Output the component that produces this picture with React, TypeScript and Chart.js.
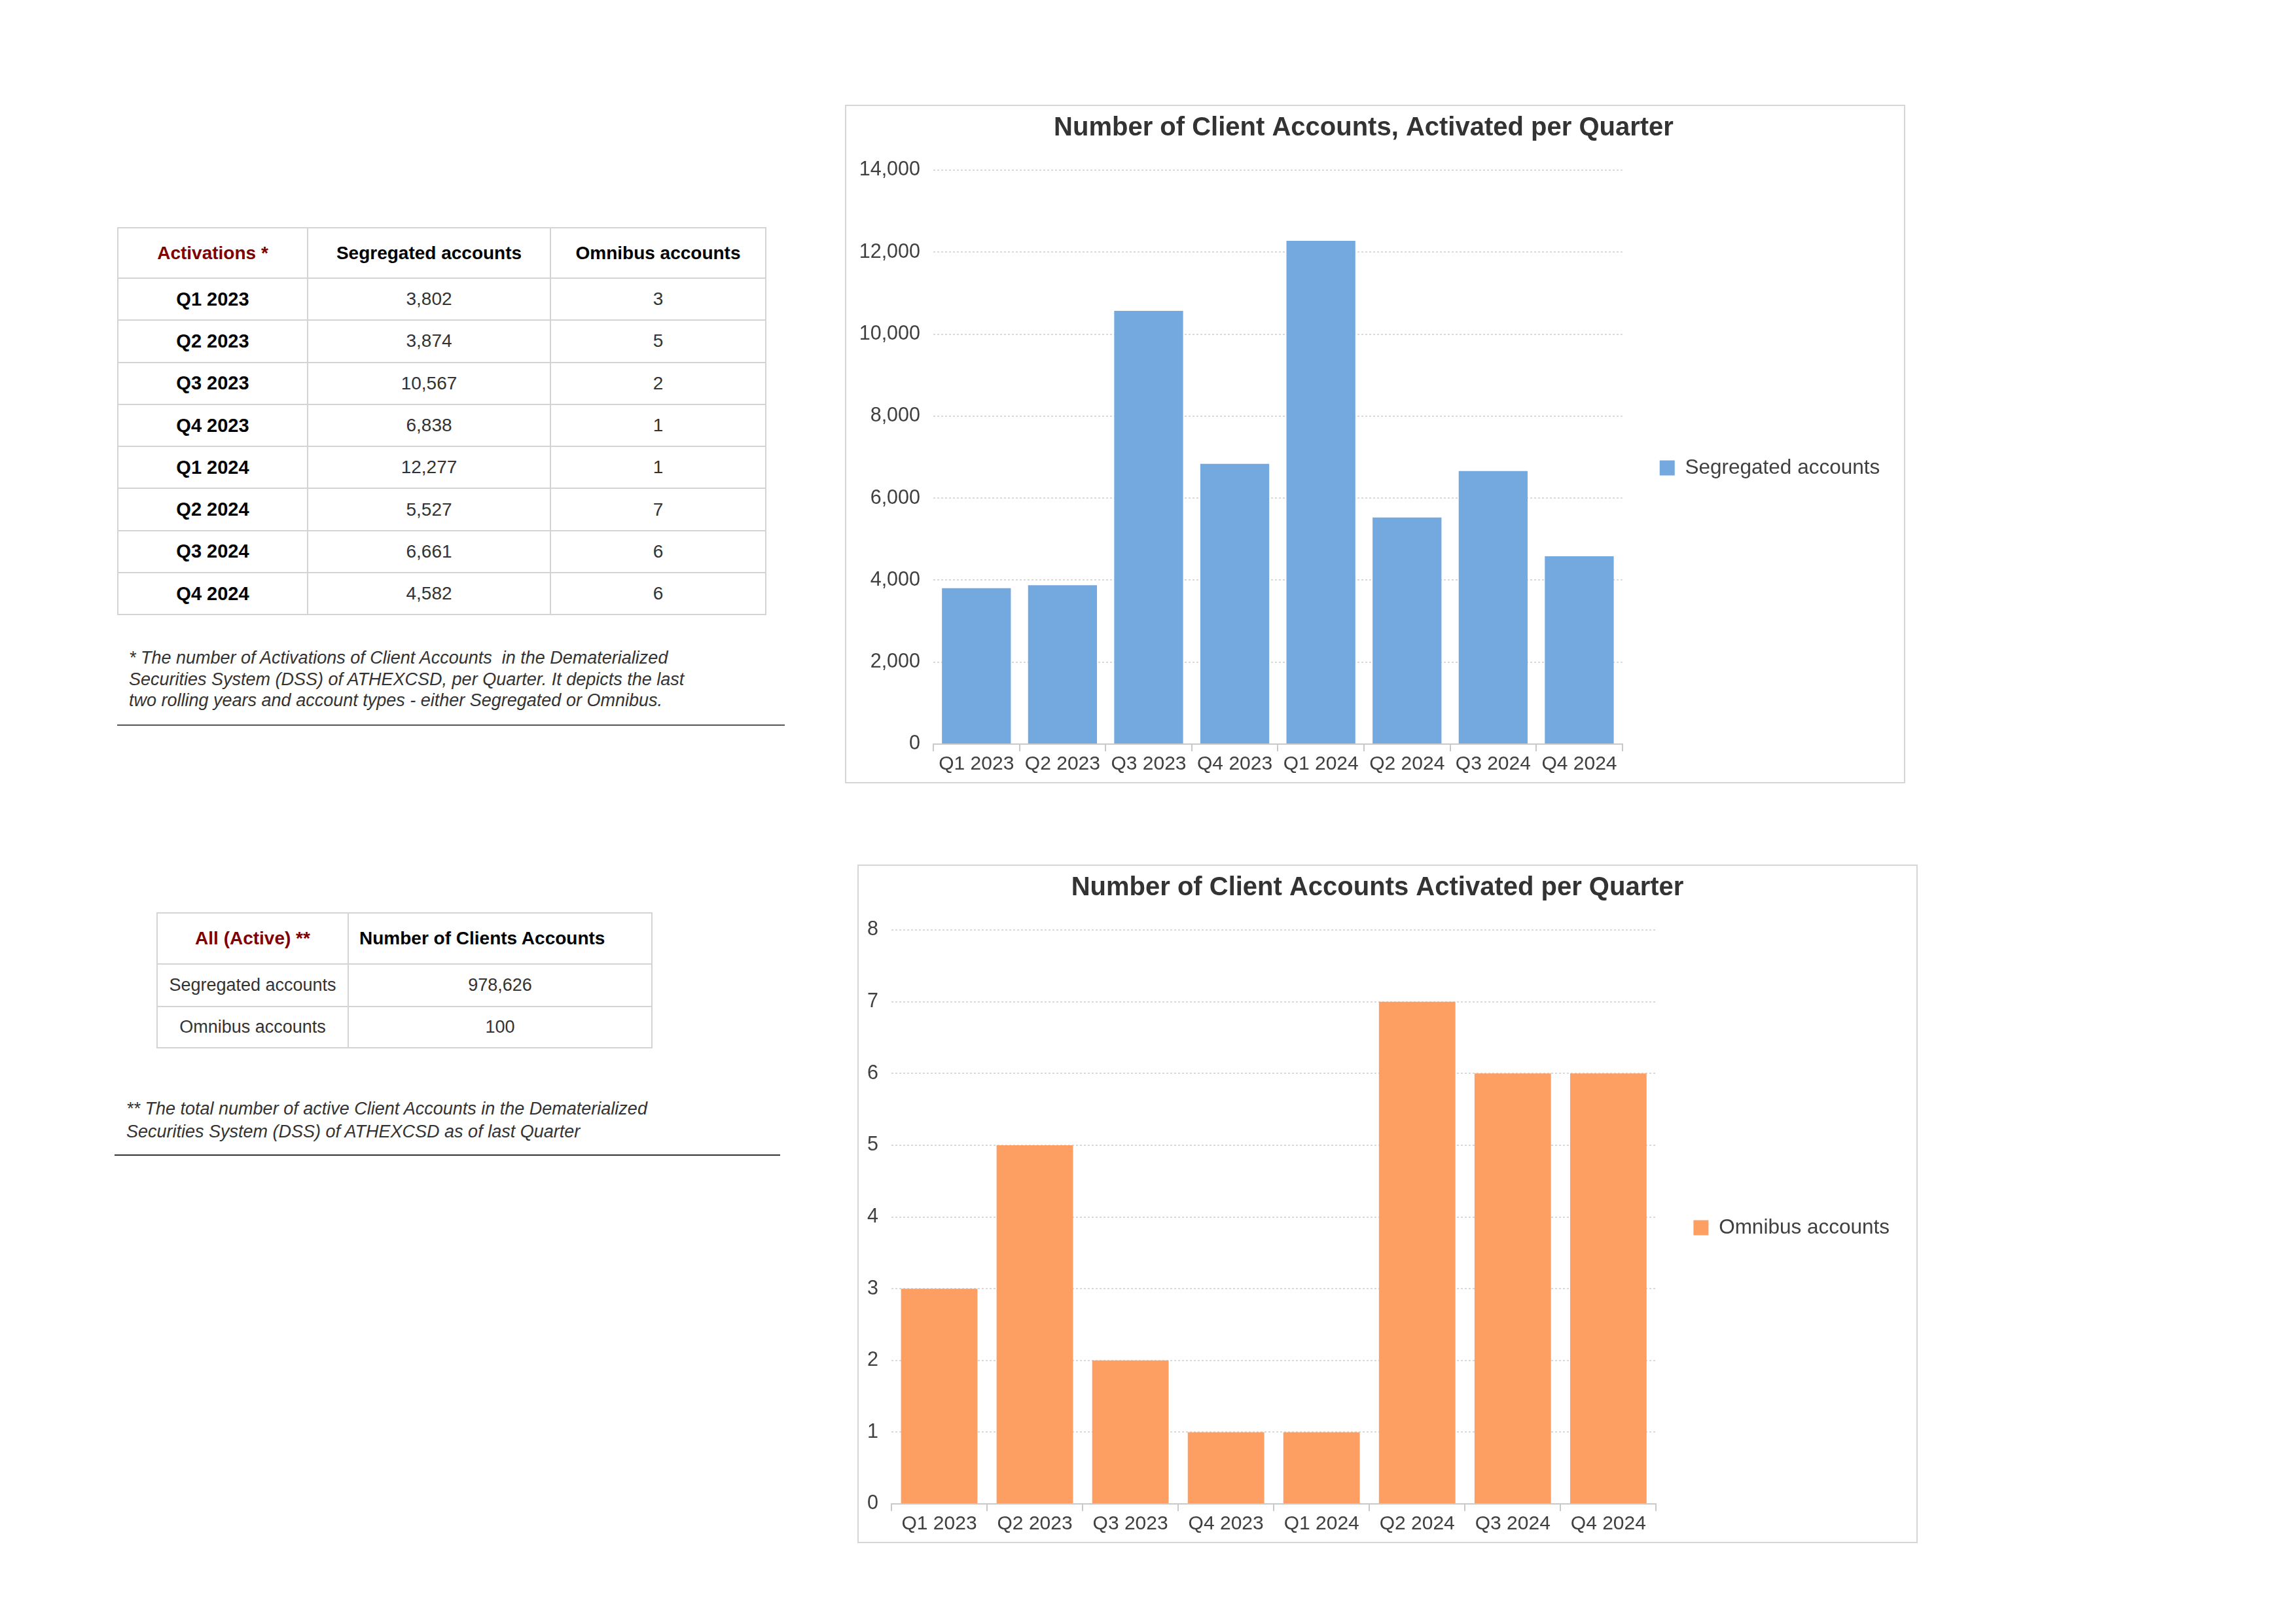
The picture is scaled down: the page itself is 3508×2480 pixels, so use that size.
import React, { useEffect, useRef } from 'react';
import { Chart, registerables } from 'chart.js';

Chart.register(...registerables);

// ---------- data ----------
const quarters = ['Q1 2023', 'Q2 2023', 'Q3 2023', 'Q4 2023', 'Q1 2024', 'Q2 2024', 'Q3 2024', 'Q4 2024'];
const segregatedActivations = [3802, 3874, 10567, 6838, 12277, 5527, 6661, 4582];
const omnibusActivations = [3, 5, 2, 1, 1, 7, 6, 6];

const activationsHeaders = ['Activations *', 'Segregated accounts', 'Omnibus accounts'];
const activeHeaders = ['All (Active) **', 'Number of Clients Accounts'];
const activeLabels = ['Segregated accounts', 'Omnibus accounts'];
const activeValues = [978626, 100];

const chart1Title = 'Number of Client Accounts, Activated per Quarter';
const chart2Title = 'Number of Client Accounts Activated per Quarter';
const segYMax = 14000;
const segYStep = 2000;
const omnYMax = 8;
const omnYStep = 1;

const footnote1 = [
  '* The number of Activations of Client Accounts  in the Dematerialized',
  'Securities System (DSS) of ATHEXCSD, per Quarter. It depicts the last',
  'two rolling years and account types - either Segregated or Omnibus.',
];
const footnote2 = [
  '** The total number of active Client Accounts in the Dematerialized',
  'Securities System (DSS) of ATHEXCSD as of last Quarter',
];

const FONT = '"Liberation Sans", Arial, sans-serif';
const fmt = (v: number) => Number(v).toLocaleString('en-US');

function makeConfig(opts: {
  title: string;
  label: string;
  data: number[];
  color: string;
  max: number;
  step: number;
  yWidth: number;
  legendPadding: number;
  rightPad: number;
}): any {
  return {
    type: 'bar',
    data: {
      labels: quarters,
      datasets: [
        {
          label: opts.label,
          data: opts.data,
          backgroundColor: opts.color,
          borderWidth: 0,
          barPercentage: 1,
          categoryPercentage: 0.8,
        },
      ],
    },
    options: {
      responsive: false,
      animation: false,
      devicePixelRatio: 1,
      layout: { padding: { left: 0, right: opts.rightPad, top: 4, bottom: 7 } },
      plugins: {
        title: {
          display: true,
          text: opts.title,
          color: '#333333',
          font: { family: FONT, size: 40, weight: 'bold', lineHeight: 1.2 },
          padding: { top: 6, bottom: 40 },
        },
        legend: {
          position: 'right',
          fullSize: false,
          title: { display: true, text: '', padding: { top: 10.5, bottom: 10.5 }, font: { size: 10, lineHeight: 1.2 } },
          labels: {
            boxWidth: 23,
            boxHeight: 23,
            padding: opts.legendPadding,
            color: '#404040',
            font: { family: FONT, size: 31.5 },
          },
        },
        tooltip: { enabled: false },
      },
      scales: {
        x: {
          grid: {
            display: true,
            drawOnChartArea: false,
            drawTicks: true,
            tickLength: 11,
            color: '#c9c9c9',
            lineWidth: 2,
            offset: true,
          },
          border: { display: true, color: '#c9c9c9', width: 2 },
          ticks: {
            color: '#404040',
            font: { family: FONT, size: 30, lineHeight: 1.2 },
            padding: 2,
            maxRotation: 0,
            minRotation: 0,
            autoSkip: false,
          },
        },
        y: {
          min: 0,
          max: opts.max,
          grid: { drawTicks: false, color: '#d9d9d9', lineWidth: 2 },
          border: { display: false, dash: [3, 3] },
          ticks: {
            stepSize: opts.step,
            padding: 20,
            color: '#404040',
            font: { family: FONT, size: 30.5 },
            callback: (v: any) => fmt(v),
          },
          afterFit: (scale: any) => {
            scale.width = opts.yWidth;
          },
        },
      },
    },
  };
}

function BarChart({ config, width, height }: { config: any; width: number; height: number }) {
  const ref = useRef<HTMLCanvasElement>(null);
  useEffect(() => {
    if (!ref.current) return;
    const chart = new Chart(ref.current, config);
    return () => chart.destroy();
  }, []);
  return <canvas ref={ref} width={width} height={height} style={{ display: 'block', width, height }} />;
}

const border = '2px solid #d4d4d4';
const cellBase: React.CSSProperties = {
  border,
  padding: 0,
  textAlign: 'center',
  verticalAlign: 'middle',
  fontFamily: FONT,
};

function ActivationsTable() {
  return (
    <table
      style={{
        position: 'absolute',
        left: 179,
        top: 347,
        borderCollapse: 'collapse',
        tableLayout: 'fixed',
        width: 990,
      }}
    >
      <colgroup>
        <col style={{ width: 290 }} />
        <col style={{ width: 371 }} />
        <col style={{ width: 329 }} />
      </colgroup>
      <thead>
        <tr style={{ height: 77 }}>
          {activationsHeaders.map((h, i) => (
            <th
              key={h}
              style={{
                ...cellBase,
                fontSize: 28,
                fontWeight: 'bold',
                color: i === 0 ? '#800000' : '#000000',
              }}
            >
              {h}
            </th>
          ))}
        </tr>
      </thead>
      <tbody>
        {quarters.map((q, i) => (
          <tr key={q} style={{ height: 64.3 }}>
            <td style={{ ...cellBase, fontSize: 29, fontWeight: 'bold', color: '#000' }}>{q}</td>
            <td style={{ ...cellBase, fontSize: 28, color: '#333' }}>{fmt(segregatedActivations[i])}</td>
            <td style={{ ...cellBase, fontSize: 28, color: '#333' }}>{fmt(omnibusActivations[i])}</td>
          </tr>
        ))}
      </tbody>
    </table>
  );
}

function ActiveTable() {
  return (
    <table
      style={{
        position: 'absolute',
        left: 239,
        top: 1394,
        borderCollapse: 'collapse',
        tableLayout: 'fixed',
        width: 756,
      }}
    >
      <colgroup>
        <col style={{ width: 292 }} />
        <col style={{ width: 464 }} />
      </colgroup>
      <thead>
        <tr style={{ height: 78 }}>
          <th style={{ ...cellBase, fontSize: 28, fontWeight: 'bold', color: '#800000' }}>{activeHeaders[0]}</th>
          <th style={{ ...cellBase, fontSize: 28, fontWeight: 'bold', color: '#000', textAlign: 'left', paddingLeft: 16 }}>
            {activeHeaders[1]}
          </th>
        </tr>
      </thead>
      <tbody>
        {activeLabels.map((l, i) => (
          <tr key={l} style={{ height: i === 0 ? 65 : 63 }}>
            <td style={{ ...cellBase, fontSize: 27, color: '#333' }}>{l}</td>
            <td style={{ ...cellBase, fontSize: 27, color: '#333' }}>{fmt(activeValues[i])}</td>
          </tr>
        ))}
      </tbody>
    </table>
  );
}

function Footnote({ lines, left, top, lineHeight }: { lines: string[]; left: number; top: number; lineHeight: number }) {
  return (
    <div
      style={{
        position: 'absolute',
        left,
        top,
        fontFamily: FONT,
        fontStyle: 'italic',
        fontSize: 27,
        lineHeight: `${lineHeight}px`,
        color: '#333',
        whiteSpace: 'pre',
      }}
    >
      {lines.map((l) => (
        <div key={l}>{l}</div>
      ))}
    </div>
  );
}

const chart1Config = makeConfig({
  title: chart1Title,
  label: 'Segregated accounts',
  data: segregatedActivations,
  color: '#74a9df',
  max: segYMax,
  step: segYStep,
  yWidth: 133,
  legendPadding: 57,
  rightPad: 35,
});

const chart2Config = makeConfig({
  title: chart2Title,
  label: 'Omnibus accounts',
  data: omnibusActivations,
  color: '#fd9e63',
  max: omnYMax,
  step: omnYStep,
  yWidth: 50,
  legendPadding: 57,
  rightPad: 31,
});

const CW = 1616;
const CH = 1033;

export default function App() {
  return (
    <div
      style={{
        position: 'absolute',
        left: 0,
        top: 0,
        width: 3500,
        height: 2470,
        overflow: 'hidden',
        background: '#ffffff',
      }}
    >
      <ActivationsTable />
      <Footnote lines={footnote1} left={197} top={989} lineHeight={32.5} />
      <div style={{ position: 'absolute', left: 179, top: 1107, width: 1020, height: 2, background: '#555' }} />

      <ActiveTable />
      <Footnote lines={footnote2} left={193} top={1677} lineHeight={35} />
      <div style={{ position: 'absolute', left: 175, top: 1764, width: 1017, height: 2, background: '#333' }} />

      <div style={{ position: 'absolute', left: 1291, top: 160, border: '2px solid #d6d6d6' }}>
        <BarChart config={chart1Config} width={CW} height={CH} />
      </div>
      <div style={{ position: 'absolute', left: 1310, top: 1321, border: '2px solid #d6d6d6' }}>
        <BarChart config={chart2Config} width={CW} height={CH} />
      </div>
    </div>
  );
}
